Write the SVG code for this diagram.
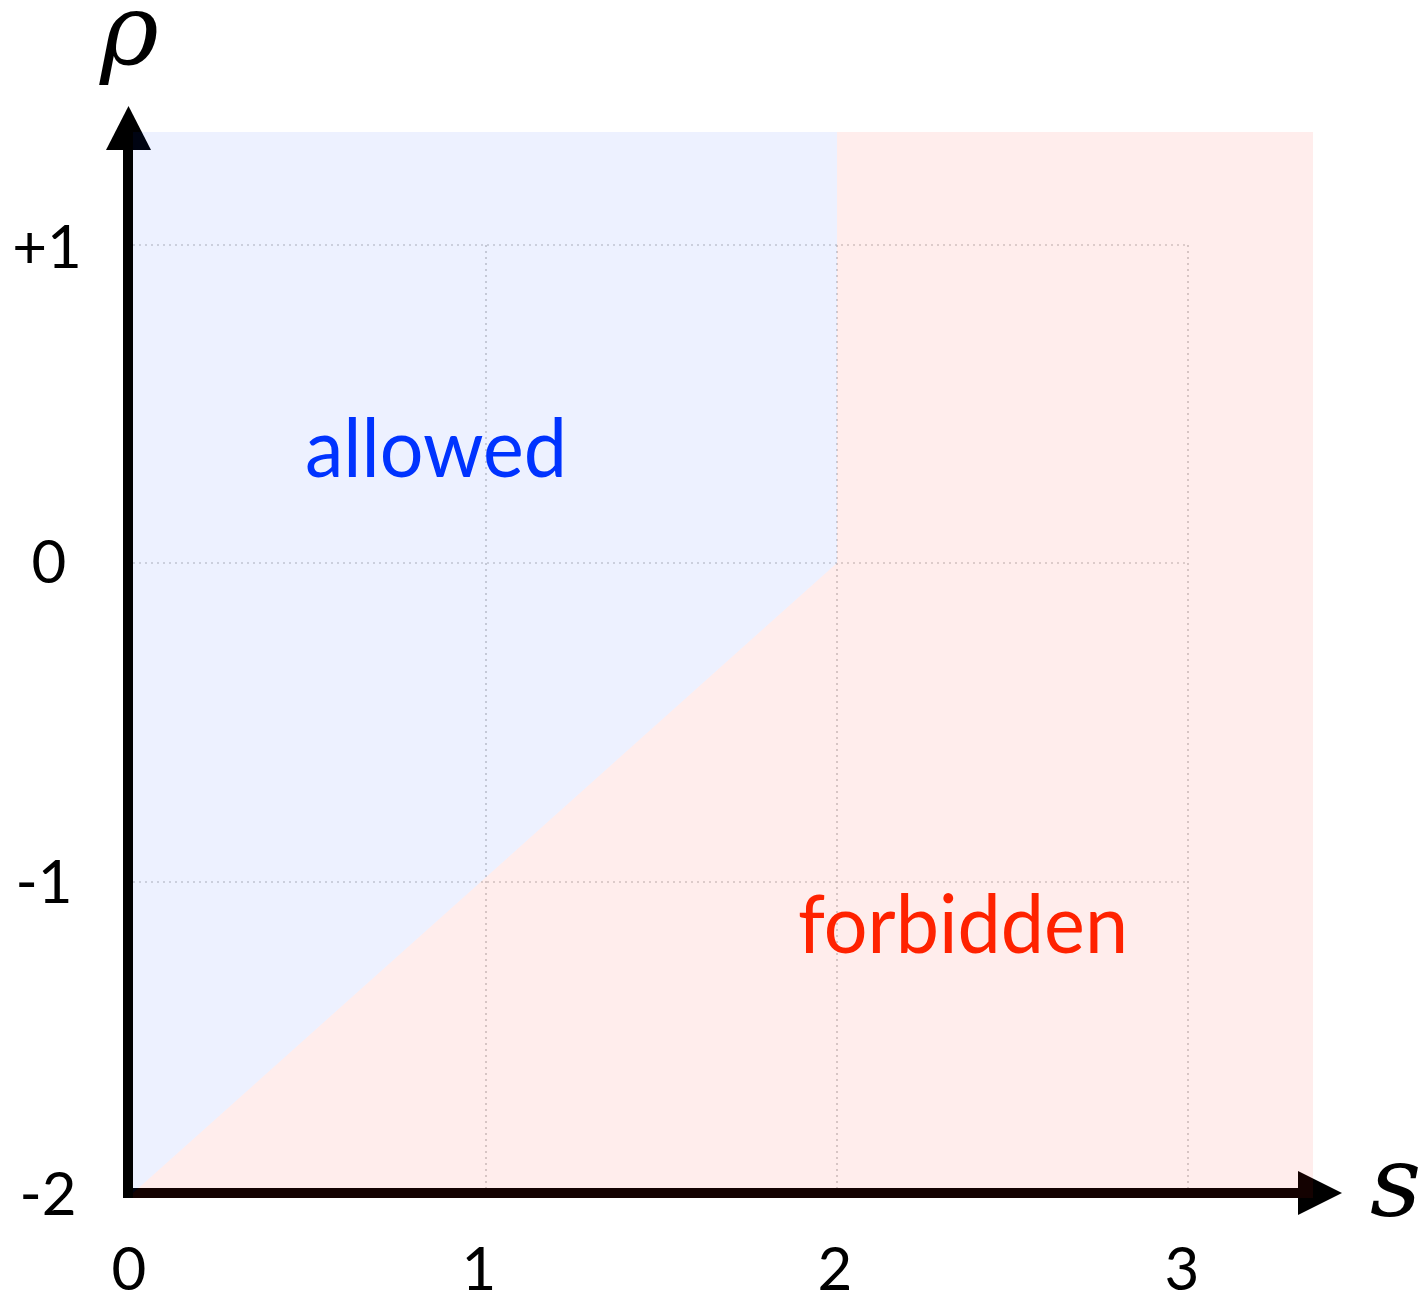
<svg xmlns="http://www.w3.org/2000/svg" width="1421" height="1297" viewBox="0 0 1421 1297">
<style>
.grid{stroke:#b8b8b8;stroke-width:1.2;stroke-dasharray:2 4;fill:none}
.tick{font-family:Lato,"Open Sans","Liberation Sans",sans-serif;font-size:60px;fill:#000;text-anchor:middle}
.var{font-family:"DejaVu Serif","Liberation Serif",serif;font-style:italic;font-size:100px;fill:#000}
.region{font-family:Lato,"Open Sans","Liberation Sans",sans-serif;font-size:82px}
</style>
<rect width="1421" height="1297" fill="#fff"/>
<g id="grid">
<line class="grid" x1="486" y1="245" x2="486" y2="1193"/>
<line class="grid" x1="837" y1="245" x2="837" y2="1193"/>
<line class="grid" x1="1188" y1="245" x2="1188" y2="1193"/>
<line class="grid" x1="133" y1="245" x2="1188" y2="245"/>
<line class="grid" x1="133" y1="563" x2="1188" y2="563"/>
<line class="grid" x1="133" y1="882" x2="1188" y2="882"/>
</g>
<g id="axes">
<line x1="128" y1="1198" x2="128" y2="148" stroke="#000" stroke-width="10"/>
<polygon points="106,150 151,150 128.5,106" fill="#000"/>
<line x1="123" y1="1193" x2="1300" y2="1193" stroke="#000" stroke-width="10"/>
<polygon points="1298,1171 1298,1215 1342,1193" fill="#000"/>
</g>
<g id="allowed-region">
<polygon points="133,132 837,132 837,563 133,1193" fill="#0033ff" fill-opacity="0.07"/>
</g>
<g id="forbidden-region">
<polygon points="837,132 1313,132 1313,1198 133,1198 133,1193 837,563" fill="#ff1a10" fill-opacity="0.08"/>
</g>
<g id="labels">
<text class="region" x="305" y="477" fill="#0033ff" textLength="262" lengthAdjust="spacingAndGlyphs">allowed</text>
<text class="region" x="798" y="953" fill="#ff2200" textLength="330" lengthAdjust="spacingAndGlyphs">forbidden</text>
<text class="var" x="100" y="64">ρ</text>
<text class="var" x="1370" y="1216">s</text>
</g>
<g id="ticks">
<text class="tick" x="47" y="268">+1</text>
<text class="tick" x="49" y="583">0</text>
<text class="tick" x="44" y="903">-1</text>
<text class="tick" x="48" y="1215">-2</text>
<text class="tick" x="129" y="1290">0</text>
<text class="tick" x="479" y="1290">1</text>
<text class="tick" x="835" y="1290">2</text>
<text class="tick" x="1182" y="1290">3</text>
</g>
</svg>
